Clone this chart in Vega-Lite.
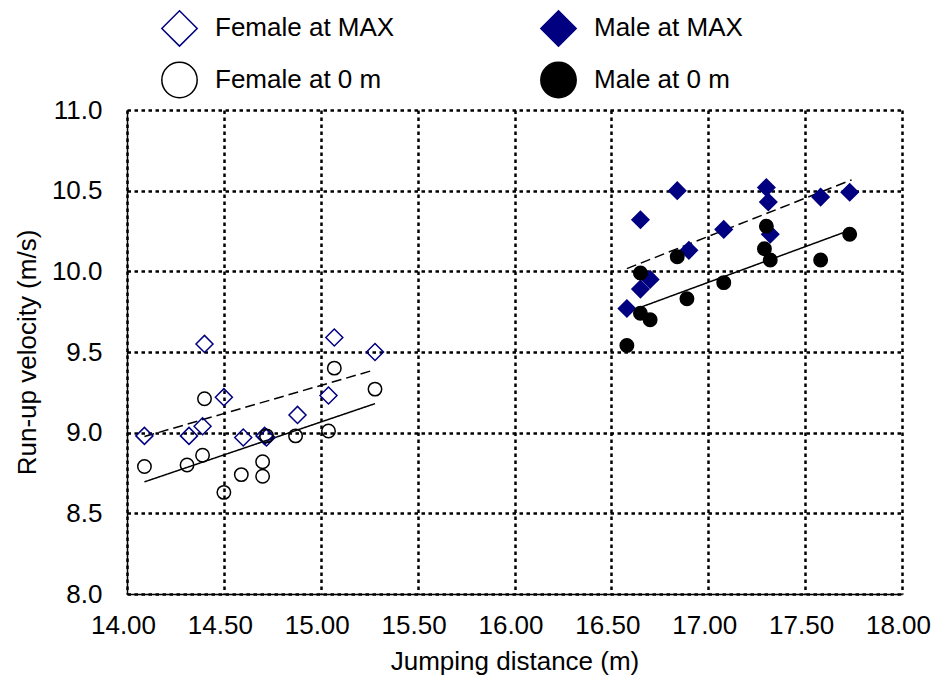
{
  "$schema": "https://vega.github.io/schema/vega-lite/v6.json",
  "width": 775,
  "height": 484,
  "autosize": {"type": "none"},
  "padding": {"left": 127, "top": 110, "right": 31, "bottom": 87},
  "background": "white",
  "config": {
    "font": "Liberation Sans",
    "view": {"stroke": null},
    "axis": {
      "labelFont": "Liberation Sans",
      "titleFont": "Liberation Sans",
      "labelFontSize": 26,
      "titleFontSize": 26,
      "labelColor": "black",
      "titleColor": "black",
      "titleFontWeight": "normal",
      "labelFlush": false,
      "labelOverlap": false,
      "domainColor": "black",
      "domainWidth": 1.5,
      "ticks": false,
      "grid": true,
      "gridColor": "black",
      "gridWidth": 2.5,
      "gridDash": [3.5, 3.5],
      "gridOpacity": 1
    },
    "legend": {
      "labelFont": "Liberation Sans",
      "labelFontSize": 26,
      "labelColor": "black",
      "labelLimit": 400
    }
  },
  "datasets": {
    "points": [
      {"dist": 14.09, "vel": 8.98, "series": "Female at MAX"},
      {"dist": 14.40, "vel": 9.55, "series": "Female at MAX"},
      {"dist": 14.50, "vel": 9.22, "series": "Female at MAX"},
      {"dist": 14.32, "vel": 8.98, "series": "Female at MAX"},
      {"dist": 14.39, "vel": 9.04, "series": "Female at MAX"},
      {"dist": 14.60, "vel": 8.97, "series": "Female at MAX"},
      {"dist": 14.71, "vel": 8.98, "series": "Female at MAX"},
      {"dist": 14.72, "vel": 8.97, "series": "Female at MAX"},
      {"dist": 14.88, "vel": 9.11, "series": "Female at MAX"},
      {"dist": 15.04, "vel": 9.23, "series": "Female at MAX"},
      {"dist": 15.07, "vel": 9.59, "series": "Female at MAX"},
      {"dist": 15.28, "vel": 9.50, "series": "Female at MAX"},
      {"dist": 14.09, "vel": 8.79, "series": "Female at 0 m"},
      {"dist": 14.40, "vel": 9.21, "series": "Female at 0 m"},
      {"dist": 14.31, "vel": 8.80, "series": "Female at 0 m"},
      {"dist": 14.39, "vel": 8.86, "series": "Female at 0 m"},
      {"dist": 14.50, "vel": 8.63, "series": "Female at 0 m"},
      {"dist": 14.59, "vel": 8.74, "series": "Female at 0 m"},
      {"dist": 14.70, "vel": 8.82, "series": "Female at 0 m"},
      {"dist": 14.70, "vel": 8.73, "series": "Female at 0 m"},
      {"dist": 14.72, "vel": 8.98, "series": "Female at 0 m"},
      {"dist": 14.87, "vel": 8.98, "series": "Female at 0 m"},
      {"dist": 15.04, "vel": 9.01, "series": "Female at 0 m"},
      {"dist": 15.07, "vel": 9.40, "series": "Female at 0 m"},
      {"dist": 15.28, "vel": 9.27, "series": "Female at 0 m"},
      {"dist": 16.65, "vel": 10.32, "series": "Male at MAX"},
      {"dist": 16.84, "vel": 10.50, "series": "Male at MAX"},
      {"dist": 17.30, "vel": 10.52, "series": "Male at MAX"},
      {"dist": 17.31, "vel": 10.43, "series": "Male at MAX"},
      {"dist": 17.58, "vel": 10.46, "series": "Male at MAX"},
      {"dist": 17.73, "vel": 10.49, "series": "Male at MAX"},
      {"dist": 17.08, "vel": 10.26, "series": "Male at MAX"},
      {"dist": 16.90, "vel": 10.13, "series": "Male at MAX"},
      {"dist": 17.32, "vel": 10.23, "series": "Male at MAX"},
      {"dist": 16.70, "vel": 9.95, "series": "Male at MAX"},
      {"dist": 16.65, "vel": 9.89, "series": "Male at MAX"},
      {"dist": 16.58, "vel": 9.77, "series": "Male at MAX"},
      {"dist": 16.58, "vel": 9.54, "series": "Male at 0 m"},
      {"dist": 16.65, "vel": 9.74, "series": "Male at 0 m"},
      {"dist": 16.70, "vel": 9.70, "series": "Male at 0 m"},
      {"dist": 16.65, "vel": 9.99, "series": "Male at 0 m"},
      {"dist": 16.84, "vel": 10.09, "series": "Male at 0 m"},
      {"dist": 16.89, "vel": 9.83, "series": "Male at 0 m"},
      {"dist": 17.08, "vel": 9.93, "series": "Male at 0 m"},
      {"dist": 17.30, "vel": 10.28, "series": "Male at 0 m"},
      {"dist": 17.29, "vel": 10.14, "series": "Male at 0 m"},
      {"dist": 17.32, "vel": 10.07, "series": "Male at 0 m"},
      {"dist": 17.58, "vel": 10.07, "series": "Male at 0 m"},
      {"dist": 17.73, "vel": 10.23, "series": "Male at 0 m"}
    ],
    "fits": [
      {"dist": 14.09, "vel": 8.695, "fit": "Female at 0 m", "style": "solid"},
      {"dist": 15.28, "vel": 9.18, "fit": "Female at 0 m", "style": "solid"},
      {"dist": 14.09, "vel": 8.976, "fit": "Female at MAX", "style": "dashed"},
      {"dist": 15.28, "vel": 9.39, "fit": "Female at MAX", "style": "dashed"},
      {"dist": 16.58, "vel": 9.746, "fit": "Male at 0 m", "style": "solid"},
      {"dist": 17.72, "vel": 10.25, "fit": "Male at 0 m", "style": "solid"},
      {"dist": 16.58, "vel": 10.017, "fit": "Male at MAX", "style": "dashed"},
      {"dist": 17.74, "vel": 10.567, "fit": "Male at MAX", "style": "dashed"}
    ]
  },
  "layer": [
    {
      "data": {"name": "fits"},
      "mark": {"type": "line", "color": "black", "strokeWidth": 1.5},
      "encoding": {
        "x": {"field": "dist", "type": "quantitative", "scale": {"domain": [14, 18], "nice": false, "zero": false},
              "axis": {"title": "Jumping distance (m)", "values": [14, 14.5, 15, 15.5, 16, 16.5, 17, 17.5, 18], "format": ".2f", "labelPadding": 18, "labelOffset": -4, "titlePadding": 10}},
        "y": {"field": "vel", "type": "quantitative", "scale": {"domain": [8, 11], "nice": false, "zero": false},
              "axis": {"title": "Run-up velocity (m/s)", "values": [8, 8.5, 9, 9.5, 10, 10.5, 11], "format": ".1f", "labelPadding": 25, "titlePadding": 11}},
        "detail": {"field": "fit"},
        "strokeDash": {"field": "style", "type": "nominal", "scale": {"domain": ["solid", "dashed"], "range": [[1, 0], [10, 5]]}, "legend": null}
      }
    },
    {
      "data": {"name": "points"},
      "transform": [{"filter": {"field": "series", "oneOf": ["Female at MAX", "Male at MAX"]}}],
      "mark": {"type": "point", "strokeWidth": 1.5, "opacity": 1, "size": 289},
      "encoding": {
        "x": {"field": "dist", "type": "quantitative"},
        "y": {"field": "vel", "type": "quantitative"},
        "shape": {"field": "series", "type": "nominal",
                  "scale": {"domain": ["Female at MAX", "Male at MAX", "Female at 0 m", "Male at 0 m"], "range": ["diamond", "diamond", "circle", "circle"]},
                  "legend": {"title": null, "orient": "none", "direction": "horizontal", "legendX": 34, "legendY": -100.5, "columns": 2, "columnPadding": 142, "rowPadding": 9, "symbolSize": 1250, "symbolStrokeWidth": 1.5, "labelOffset": 17, "padding": 0}},
        "fill": {"field": "series", "type": "nominal",
                 "scale": {"domain": ["Female at MAX", "Male at MAX", "Female at 0 m", "Male at 0 m"], "range": ["transparent", "#000080", "transparent", "#000000"]},
                 "legend": {"title": null, "orient": "none", "direction": "horizontal", "legendX": 34, "legendY": -100.5, "columns": 2, "columnPadding": 142, "rowPadding": 9, "symbolSize": 1250, "symbolStrokeWidth": 1.5, "labelOffset": 17, "padding": 0}},
        "stroke": {"field": "series", "type": "nominal",
                   "scale": {"domain": ["Female at MAX", "Male at MAX", "Female at 0 m", "Male at 0 m"], "range": ["#000080", "#000080", "#000000", "#000000"]},
                   "legend": {"title": null, "orient": "none", "direction": "horizontal", "legendX": 34, "legendY": -100.5, "columns": 2, "columnPadding": 142, "rowPadding": 9, "symbolSize": 1250, "symbolStrokeWidth": 1.5, "labelOffset": 17, "padding": 0}}
      }
    },
    {
      "data": {"name": "points"},
      "transform": [{"filter": {"field": "series", "oneOf": ["Female at 0 m", "Male at 0 m"]}}],
      "mark": {"type": "point", "strokeWidth": 1.5, "opacity": 1, "size": 180},
      "encoding": {
        "x": {"field": "dist", "type": "quantitative"},
        "y": {"field": "vel", "type": "quantitative"},
        "shape": {"field": "series", "type": "nominal"},
        "fill": {"field": "series", "type": "nominal"},
        "stroke": {"field": "series", "type": "nominal"}
      }
    }
  ]
}
